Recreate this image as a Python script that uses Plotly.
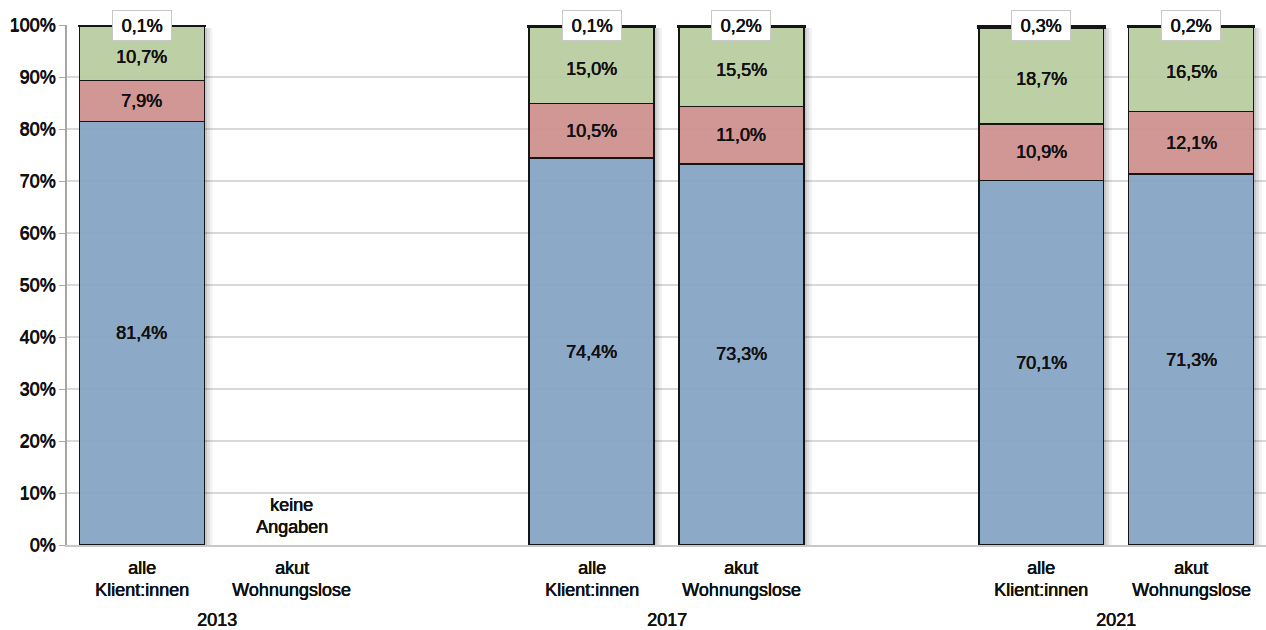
import plotly.graph_objects as go

# Slot positions on the numeric x axis (empty slots 2 and 5 separate the years)
positions = [0, 1, 3, 4, 6, 7]
line1 = ["alle", "akut", "alle", "akut", "alle", "akut"]
line2 = ["Klient:innen", "Wohnungslose", "Klient:innen", "Wohnungslose", "Klient:innen", "Wohnungslose"]
years = ["2013", "2017", "2021"]
year_pos = [0.5, 3.5, 6.5]

# Shares in percent, bottom to top (None = keine Angaben)
blue = [81.4, None, 74.4, 73.3, 70.1, 71.3]
red = [7.9, None, 10.5, 11.0, 10.9, 12.1]
green = [10.7, None, 15.0, 15.5, 18.7, 16.5]
black = [0.1, None, 0.1, 0.2, 0.3, 0.2]

FONT = "Liberation Sans, Arial, sans-serif"
TXT = "#111111"
HEAVY = "0.45px 0 0 #111111, 0 0.2px 0 #111111"
BAR_W = 0.833


def tfont(size=18):
    return dict(family=FONT, size=size, color=TXT, shadow=HEAVY)


fig = go.Figure()
series = [
    (blue, "rgba(134,164,197,0.95)", 1.5),
    (red, "rgba(206,145,143,0.95)", 1.5),
    (green, "rgba(185,206,160,0.95)", 1.5),
    (black, "#000000", 4),
]
for vals, col, lw in series:
    fig.add_trace(go.Bar(
        x=positions, y=vals, width=BAR_W,
        marker=dict(color=col, line=dict(color="#151515", width=lw)),
        cliponaxis=False, hoverinfo="skip", showlegend=False,
    ))


def fmt(v):
    return f"{v:.1f}%".replace(".", ",")


annotations = []
shapes = []
for i, x in enumerate(positions):
    if blue[i] is None:
        continue
    base = 0.0
    for k, vals in enumerate((blue, red, green)):
        v = vals[i]
        annotations.append(dict(
            x=x, y=base + v / 2, text=fmt(v), showarrow=False, font=tfont(),
            # top segment labels sit a little lower, clear of the boxed label
            yshift=-4 if k == 2 else 0,
        ))
        base += v
    top = base + black[i]
    # boxed label for the thin top segment, kept inside the axis range
    annotations.append(dict(
        x=x, y=min(top, 100), text=fmt(black[i]), showarrow=False, font=tfont(),
        bgcolor="white", bordercolor="#c8c8c8", borderwidth=1,
        width=56, height=27, yanchor="middle",
    ))
    # soft drop shadow along the right edge of the bar
    right = x + BAR_W / 2
    for k, a in enumerate((0.10, 0.08, 0.05)):
        shapes.append(dict(
            type="rect", xref="x", yref="y", layer="between",
            x0=right, x1=right + 0.018 * (k + 1), y0=0, y1=min(top, 100) - 0.6,
            fillcolor=f"rgba(0,0,0,{a})", line=dict(width=0),
        ))

# category labels under the axis
for i, x in enumerate(positions):
    annotations.append(dict(x=x, y=0, yshift=-23, text=line1[i], showarrow=False, font=tfont()))
    annotations.append(dict(x=x, y=0, yshift=-45, text=line2[i], showarrow=False, font=tfont()))
for yr, xp in zip(years, year_pos):
    annotations.append(dict(x=xp, y=0, yshift=-75, text=yr, showarrow=False, font=tfont()))

# missing data note
annotations.append(dict(x=1, y=0, yshift=40, text="keine", showarrow=False, font=tfont()))
annotations.append(dict(x=1, y=0, yshift=18, text="Angaben", showarrow=False, font=tfont()))

fig.update_layout(
    barmode="stack",
    width=1266, height=630,
    margin=dict(l=67, r=0, t=25, b=85),
    paper_bgcolor="white", plot_bgcolor="white",
    annotations=annotations, shapes=shapes,
    xaxis=dict(range=[-0.5, 7.5], showticklabels=False, ticks="", showgrid=False,
               zeroline=False, showline=True, linecolor="#c8c8c8", linewidth=1.5),
    yaxis=dict(range=[0, 100], dtick=10, ticksuffix="%", showgrid=True,
               gridcolor="#d9d9d9", gridwidth=1.5, zeroline=False,
               showline=True, linecolor="#a6a6a6", linewidth=1.5,
               ticks="outside", ticklen=6, tickcolor="#a6a6a6",
               tickfont=tfont()),
    font=dict(family=FONT),
)

fig.write_html("out.html")
